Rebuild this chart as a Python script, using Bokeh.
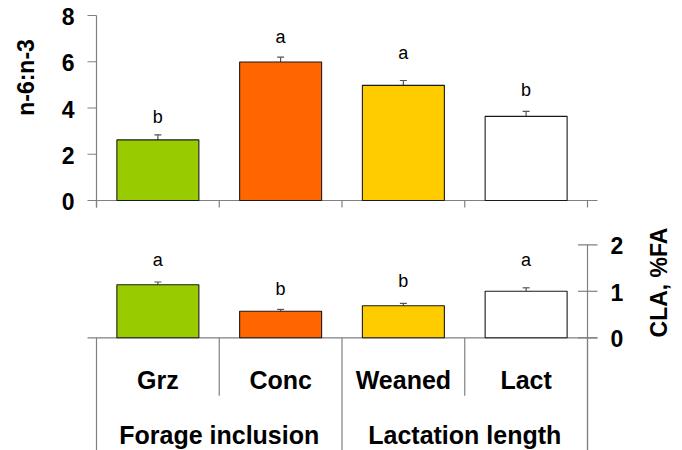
import math
from bokeh.plotting import figure
from bokeh.models import Range1d, ColumnDataSource
from bokeh.core.properties import value
from bokeh.embed import file_html
from bokeh.resources import INLINE

# ---------------- data ----------------
categories = ["Grz", "Conc", "Weaned", "Lact"]
groups = ["Forage inclusion", "Lactation length"]
group_of = [0, 0, 1, 1]
bar_colors = ["#99CC00", "#FF6600", "#FFCC00", "#FFFFFF"]

n6n3 = [2.62, 5.99, 4.98, 3.64]
n6n3_se = [0.22, 0.21, 0.21, 0.21]
n6n3_letters = ["b", "a", "a", "b"]
n6n3_letter_y = [3.59, 7.06, 6.38, 4.80]

cla = [1.14, 0.57, 0.69, 1.00]
cla_se = [0.06, 0.04, 0.05, 0.075]
cla_letters = ["a", "b", "b", "a"]
cla_letter_y = [1.67, 1.06, 1.217, 1.67]

top_ticks = [0, 2, 4, 6, 8]
bot_ticks = [0, 1, 2]
top_title = "n-6:n-3"
bot_title = "CLA, %FA"

# ---------------- layout ----------------
W, H = 682, 450
X_UNIT = 122.75          # px per category slot
X_FIRST = 96.0           # px of the left edge of the first slot
TOP_UNIT = 23.125        # px per n-6:n-3 unit
BOT_UNIT = 46.5          # px per CLA unit
TOP_ZERO = 200.0         # px from canvas top
BOT_ZERO = 337.3

x_start = 0.5 - X_FIRST / X_UNIT
x_end = x_start + W / X_UNIT
top_end = TOP_ZERO / TOP_UNIT
top_start = top_end - H / TOP_UNIT
bot_end = BOT_ZERO / BOT_UNIT
bot_start = bot_end - H / BOT_UNIT

def dx(px): return px / X_UNIT
def dyt(px): return px / TOP_UNIT
def dyb(px): return px / BOT_UNIT

FONT = "Liberation Sans"
AXIS_COL = "#808080"
EDGE_COL = "#1a1a1a"
ERR_COL = "#555555"
BAR_W = 0.668

xs = [i + 1 for i in range(len(categories))]
bounds = [i + 0.5 for i in range(len(categories) + 1)]
group_bounds = [0.5] + [i + 1.5 for i in range(len(categories))
                        if i == len(categories) - 1 or group_of[i] != group_of[i + 1]]
inner_bounds = [b for b in bounds if b not in group_bounds]
left_x = bounds[0]
right_x = bounds[-1]

p = figure(width=W, height=H, x_range=Range1d(x_start, x_end),
           y_range=Range1d(top_start, top_end),
           output_backend="svg", toolbar_location=None,
           min_border_left=0, min_border_right=0,
           min_border_top=0, min_border_bottom=0,
           x_axis_location=None, y_axis_location=None)
p.extra_y_ranges = {"bot": Range1d(bot_start, bot_end)}
p.grid.grid_line_color = None
p.outline_line_color = None
p.background_fill_color = "white"
p.border_fill_color = "white"

bold = dict(text_font=value(FONT), text_font_style="bold", text_font_size="23px",
            text_color="black")
bold_cat = dict(bold, text_font_size="25px")

# ---------- top panel axis lines ----------
tx0, ty0, tx1, ty1 = [], [], [], []
tx0.append(left_x); ty0.append(-dyt(7)); tx1.append(left_x); ty1.append(top_ticks[-1])
for t in top_ticks:
    tx0.append(left_x - dx(9)); ty0.append(t); tx1.append(left_x); ty1.append(t)
tx0.append(left_x); ty0.append(0); tx1.append(right_x + dx(10)); ty1.append(0)
for b in bounds:
    tx0.append(b); ty0.append(0); tx1.append(b); ty1.append(-dyt(7))
p.segment(x0=tx0, y0=ty0, x1=tx1, y1=ty1, line_color=AXIS_COL, line_width=1.2)

# top tick labels
p.text(x=[left_x - dx(22)] * len(top_ticks), y=top_ticks, text=[str(t) for t in top_ticks],
       text_align="right", text_baseline="middle", y_offset=1, **bold)

# ---------- bottom panel axis lines ----------
bx0, by0, bx1, by1 = [], [], [], []
bx0.append(left_x - dx(9)); by0.append(0); bx1.append(right_x + dx(10)); by1.append(0)
bx0.append(right_x); by0.append(bot_ticks[-1]); bx1.append(right_x); by1.append(bot_start)
for t in bot_ticks:
    bx0.append(right_x - dx(9.5)); by0.append(t); bx1.append(right_x + dx(10)); by1.append(t)
for b in group_bounds:
    bx0.append(b); by0.append(0); bx1.append(b); by1.append(bot_start)
for b in inner_bounds:
    bx0.append(b); by0.append(0); bx1.append(b); by1.append(-dyb(58))
p.segment(x0=bx0, y0=by0, x1=bx1, y1=by1, line_color=AXIS_COL, line_width=1.2,
          y_range_name="bot")

# bottom tick labels (right axis)
p.text(x=[right_x + dx(23)] * len(bot_ticks), y=bot_ticks, text=[str(t) for t in bot_ticks],
       text_align="left", text_baseline="middle", y_offset=1, y_range_name="bot", **bold)

# ---------- bars ----------
def panel(vals, ses, letters, letter_y, rname):
    kw = {} if rname is None else {"y_range_name": rname}
    src = ColumnDataSource(dict(x=xs, top=vals, c=bar_colors,
                                et=[v + s for v, s in zip(vals, ses)],
                                cl=[x - dx(3.5) for x in xs], cr=[x + dx(3.5) for x in xs],
                                lt=letters, ly=letter_y))
    p.segment(x0="x", y0="top", x1="x", y1="et", source=src, line_color=ERR_COL,
              line_width=1.2, **kw)
    p.segment(x0="cl", y0="et", x1="cr", y1="et", source=src, line_color=ERR_COL,
              line_width=1.2, **kw)
    p.vbar(x="x", top="top", bottom=0, width=BAR_W, fill_color="c",
           line_color=EDGE_COL, line_width=1.1, source=src, **kw)
    p.text(x="x", y="ly", text="lt", source=src, text_align="center",
           text_baseline="middle", text_font=value(FONT),
           text_font_size="18px", text_color="black", **kw)

panel(n6n3, n6n3_se, n6n3_letters, n6n3_letter_y, None)
panel(cla, cla_se, cla_letters, cla_letter_y, "bot")

# ---------- category labels ----------
p.text(x=xs, y=[-dyb(41.7)] * len(xs), text=categories, y_range_name="bot",
       text_align="center", text_baseline="middle", **bold_cat)
gx = [sum(x for x, g in zip(xs, group_of) if g == k) / group_of.count(k)
      for k in range(len(groups))]
p.text(x=gx, y=[-dyb(97.5)] * len(gx), text=groups, y_range_name="bot",
       text_align="center", text_baseline="middle", **bold_cat)

# ---------- axis titles ----------
p.text(x=[left_x - dx(71)], y=[dyt(123)], text=[top_title], angle=math.pi / 2,
       text_align="center", text_baseline="middle", **bold)
p.text(x=[right_x + dx(71)], y=[dyb(55.3)], text=[bot_title], angle=math.pi / 2,
       text_align="center", text_baseline="middle", y_range_name="bot", **bold)

open("out.html", "w").write(file_html(p, INLINE))
